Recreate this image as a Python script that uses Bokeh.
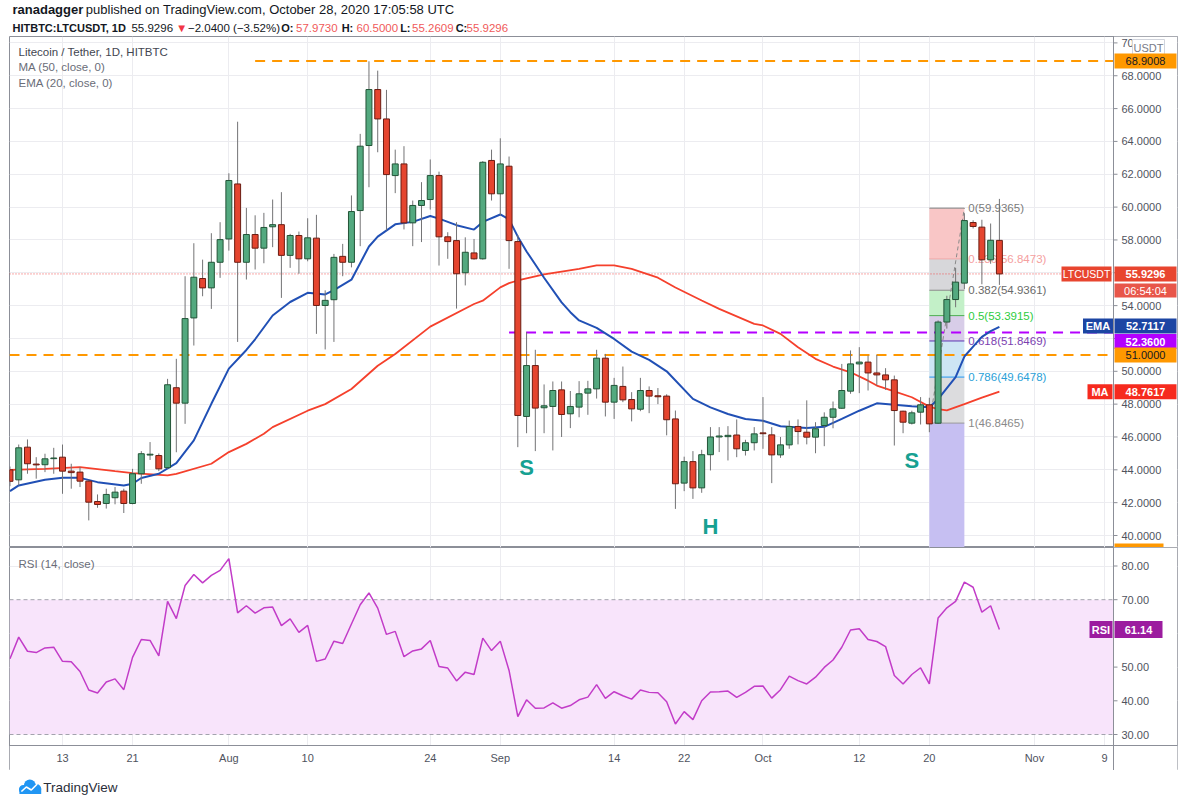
import numpy as np
import pandas as pd
from bokeh.plotting import figure
from bokeh.models import Range1d, Grid, FixedTicker, ColumnDataSource, Span
from bokeh.layouts import column
from bokeh.embed import file_html
from bokeh.resources import INLINE
from bokeh.core.properties import value

FONT = "Liberation Sans"

# ---------------------------------------------------------------- data
dates = pd.date_range("2020-07-07", "2020-10-28", freq="D")

opens = [44.00, 43.39, 45.38, 44.35, 44.31, 44.68, 44.77, 43.92, 43.86, 43.31,
         42.07, 41.95, 42.30, 42.70, 41.95, 43.76, 44.90, 44.87, 44.13, 49.00,
         48.06, 53.25, 55.65, 55.08, 56.64, 58.06, 61.41, 56.64, 58.33, 57.50,
         58.80, 58.93, 57.06, 58.27, 56.85, 58.11, 54.01, 54.36, 57.00, 56.64,
         59.79, 63.75, 67.16, 65.37, 61.92, 62.63, 59.04, 60.10, 60.46, 61.92,
         58.19, 57.96, 56.00, 57.21, 56.85, 62.84, 60.81, 62.49, 57.90, 47.25,
         50.35, 47.78, 47.86, 48.87, 47.41, 47.82, 48.67, 48.93, 50.80, 48.12,
         49.08, 48.28, 47.69, 48.83, 48.51, 48.49, 47.10, 43.19, 44.50, 42.90,
         44.92, 46.00, 46.02, 46.12, 45.18, 45.65, 46.25, 46.13, 44.91, 45.52,
         46.64, 46.29, 45.99, 46.70, 47.20, 47.75, 48.79, 50.45, 50.56, 49.90,
         49.78, 49.48, 47.57, 46.84, 47.51, 47.96, 46.84, 53.00, 54.37, 55.37,
         59.06, 58.78, 56.79, 57.973]
highs = [44.20, 45.54, 45.85, 44.77, 44.98, 45.34, 45.54, 44.37, 44.17, 43.40,
         42.50, 42.85, 42.95, 42.85, 44.06, 45.14, 45.69, 45.00, 49.54, 50.76,
         55.79, 57.80, 56.80, 58.41, 59.08, 62.06, 65.20, 59.95, 59.50, 59.65,
         60.46, 60.91, 58.37, 58.51, 59.32, 59.53, 54.93, 57.15, 57.76, 60.71,
         64.46, 68.88, 68.31, 67.14, 63.50, 63.71, 60.40, 61.52, 62.90, 62.16,
         58.47, 59.08, 58.16, 58.06, 62.80, 63.50, 64.19, 63.08, 58.30, 52.38,
         51.31, 49.20, 49.38, 49.38, 48.80, 49.40, 49.42, 51.31, 51.06, 49.60,
         50.29, 48.73, 49.60, 49.08, 48.98, 48.60, 47.61, 44.80, 45.14, 45.22,
         46.60, 46.60, 46.66, 47.07, 45.83, 46.60, 48.43, 46.60, 46.00, 47.00,
         47.07, 48.23, 46.90, 47.50, 48.16, 50.45, 51.27, 51.47, 50.96, 51.00,
         50.19, 49.74, 47.60, 47.60, 48.43, 48.39, 53.10, 54.60, 56.30, 59.63,
         59.20, 59.23, 59.00, 60.50]
lows = [43.00, 43.05, 43.76, 43.46, 43.86, 43.76, 42.54, 42.85, 42.95, 40.92,
        41.69, 41.64, 41.90, 41.37, 41.90, 43.15, 44.60, 43.92, 44.06, 45.07,
        46.80, 51.57, 54.57, 53.80, 55.69, 57.35, 51.79, 55.59, 56.20, 56.58,
        57.56, 54.47, 56.30, 55.94, 56.70, 52.28, 51.33, 51.79, 55.79, 56.33,
        57.62, 61.21, 63.34, 58.58, 60.85, 58.64, 57.62, 57.87, 59.85, 56.44,
        56.85, 53.82, 55.23, 56.80, 56.80, 60.40, 59.49, 56.24, 45.38, 46.23,
        45.14, 46.23, 45.18, 46.00, 46.54, 47.20, 47.35, 48.34, 47.25, 47.10,
        48.12, 46.95, 47.57, 47.45, 48.00, 46.10, 41.62, 42.70, 42.23, 42.60,
        43.96, 45.08, 44.57, 44.77, 44.87, 45.18, 45.28, 43.19, 44.73, 45.28,
        45.55, 45.55, 45.01, 45.44, 46.53, 47.71, 48.63, 48.67, 48.83, 49.14,
        48.87, 45.48, 46.23, 46.76, 46.76, 46.29, 46.80, 52.60, 53.90, 55.00,
        58.70, 55.30, 56.55, 55.2609]
closes = [43.30, 45.34, 44.37, 44.30, 44.67, 44.72, 43.92, 43.83, 43.31, 42.03,
          41.89, 42.50, 42.64, 41.95, 43.76, 44.98, 44.95, 44.06, 49.18, 48.06,
          53.21, 55.73, 55.08, 56.64, 58.02, 61.62, 56.64, 58.33, 57.50, 58.76,
          58.93, 57.06, 58.27, 56.85, 58.13, 54.01, 54.32, 56.94, 56.64, 59.73,
          63.71, 67.16, 65.37, 61.98, 62.63, 59.04, 60.10, 60.40, 61.92, 58.19,
          57.90, 55.94, 57.25, 56.85, 62.73, 60.81, 62.63, 57.96, 47.31, 50.35,
          47.76, 47.90, 48.83, 47.37, 47.86, 48.63, 48.93, 50.80, 48.12, 49.14,
          48.26, 47.71, 48.83, 48.49, 48.45, 47.05, 43.15, 44.50, 42.90, 44.92,
          46.00, 46.06, 46.10, 45.28, 45.65, 46.19, 46.20, 44.91, 45.52, 46.64,
          46.33, 45.99, 46.50, 47.20, 47.71, 48.83, 50.45, 50.56, 49.90, 49.78,
          49.48, 47.61, 46.90, 47.47, 47.96, 46.80, 53.00, 54.37, 55.43, 59.18,
          58.82, 56.79, 57.98, 55.9296]

rsi = [52.5, 58.9, 54.7, 54.3, 55.7, 55.9, 51.7, 51.6, 48.7, 43.2,
       42.3, 45.6, 46.5, 43.3, 52.9, 58.2, 57.9, 53.3, 69.5, 64.4,
       74.2, 77.5, 75.0, 77.2, 78.7, 82.2, 66.1, 68.2, 66.0, 67.6,
       67.8, 62.3, 64.3, 60.3, 62.4, 51.7, 52.4, 57.7, 57.0, 62.8,
       68.5, 72.0, 67.5, 59.7, 60.6, 53.1, 54.8, 55.4, 57.9, 50.2,
       49.7, 45.9, 48.5, 47.8, 58.6, 54.9, 57.7, 49.0, 35.3, 40.3,
       37.8, 37.9, 39.4, 37.8, 38.6, 40.3, 41.1, 44.8, 40.7, 42.7,
       41.5, 40.5, 43.2, 42.5, 42.4, 39.7, 33.1, 36.8, 34.4, 40.0,
       42.6, 42.7, 42.9, 41.0, 42.5, 44.3, 44.4, 40.8, 43.3, 47.3,
       46.0, 45.0, 47.0, 49.9, 52.1, 55.9, 61.0, 61.4, 58.2, 57.6,
       56.1, 47.5, 45.0, 47.8, 49.8, 45.0, 64.6, 67.6, 69.5, 75.2,
       73.7, 66.3, 68.2, 61.14]

# indicator lines (day offsets from 2020-07-13)
ema_days = [-6, -5, -2, 0, 2, 4, 7, 8, 9, 11, 13, 15, 17, 19, 21, 22, 24, 26, 28, 30,
            31, 33, 35, 36, 38, 40, 42, 43, 45, 47, 48, 50, 51, 52, 53, 54, 55, 57, 58, 59,
            61, 63, 65, 67, 69, 72, 74, 76, 78, 80, 82, 85, 87, 89, 91, 93, 95, 97, 99, 100,
            102, 103, 104, 105, 106, 107]
ema_vals = [42.70, 43.05, 43.39, 43.51, 43.51, 43.25, 43.05, 43.15, 43.50, 43.76,
            44.41, 45.79, 48.02, 50.16, 51.30, 51.95, 53.40, 54.22, 54.78, 54.68,
            54.95, 55.58, 57.60, 58.20, 58.95, 59.10, 59.46, 59.30, 58.90, 58.63,
            59.10, 59.55, 59.25, 58.20, 57.30, 56.50, 55.70, 54.20, 53.60, 53.10,
            52.64, 51.97, 51.20, 50.70, 50.00, 48.32, 47.80, 47.40, 47.10, 46.99,
            46.65, 46.55, 46.62, 47.10, 47.60, 48.05, 47.97, 47.87, 47.81, 48.30,
            49.64, 50.90, 51.50, 52.10, 52.45, 52.71]
ma_days = [-6, -2, 2, 6, 8, 12, 13, 17, 19, 21, 23, 24, 28, 30, 33, 36, 38, 42, 47, 48,
           50, 51, 52, 55, 59, 61, 63, 65, 68, 70, 73, 75, 79, 80, 82, 84, 86, 88, 90, 92,
           93, 95, 97, 99, 100, 101, 103, 105, 107]
ma_vals = [44.00, 44.06, 44.17, 43.92, 43.80, 43.66, 43.76, 44.37, 45.08, 45.58,
           46.20, 46.60, 47.60, 48.00, 48.92, 50.34, 51.05, 52.72, 54.10, 54.30,
           55.11, 55.37, 55.53, 55.90, 56.24, 56.45, 56.45, 56.24, 55.70, 55.10,
           54.31, 53.80, 52.89, 52.79, 52.28, 51.47, 50.76, 50.29, 49.94, 49.43,
           49.13, 48.78, 48.42, 47.85, 47.70, 47.62, 48.00, 48.40, 48.76]

# horizontal levels
res_high = 68.9008
sup_orange = 51.0
sup_purple = 52.36
res_high_start = "2020-08-04"
sup_purple_start = "2020-09-02"

# fibonacci retracement
fib_levels = ["0", "0.236", "0.382", "0.5", "0.618", "0.786", "1"]
fib_prices = [59.9365, 56.8473, 54.9361, 53.3915, 51.8469, 49.6478, 46.8465]
fib_start, fib_end = "2020-10-20", "2020-10-24"

# pattern labels
pattern_text = ["S", "H", "S"]
pattern_date = ["2020-09-04", "2020-09-25", "2020-10-18"]
pattern_price = [44.14, 40.55, 44.57]

price_ticks = list(range(40, 71, 2))
rsi_grid = [40, 50, 60, 80]
rsi_ticks = [80, 70, 50, 40, 30]
tick_dates = ["2020-07-13", "2020-07-21", "2020-08-01", "2020-08-10", "2020-08-24",
              "2020-09-01", "2020-09-14", "2020-09-22", "2020-10-01", "2020-10-12",
              "2020-10-20", "2020-11-01", "2020-11-09"]
tick_labels = ["13", "21", "Aug", "10", "24", "Sep", "14", "22", "Oct", "12", "20", "Nov", "9"]

ema_last, ma_last, rsi_last = 52.7117, 48.7617, 61.14
countdown = "06:54:04"

# ---------------------------------------------------------------- helpers
origin = pd.Timestamp("2020-07-13")
def dd(s):
    return float((pd.Timestamp(s) - origin).days)

day = np.array((dates - origin).days, dtype=float)

def px2d(x):   # page x -> day offset
    return (x - 62.0) / 8.756
def py2p(y):   # page y -> price
    return 40.0 + (535.0 - y) / 16.42
def py2r(y):   # page y -> RSI
    return 30.0 + (734.0 - y) / 3.37

BORDER = "#8c8f98"
GRID = "#ececf0"
AXTXT = "#50535e"
GREEN, GREEN_B = "#53a97f", "#225437"
RED, RED_B = "#e5452f", "#6b1c12"

def txt(fig, x, y, s, color="#131722", size="11px", align="left", style="normal", font=FONT):
    fig.text(x=[x], y=[y], text=[s], text_font=value(font), text_font_size=size,
             text_color=color, text_align=align, text_baseline="middle", text_font_style=style)

def box(fig, xc, yc, w, h, color, line=None):
    fig.rect(x=[xc], y=[yc], width=[w], height=[h], width_units="screen", height_units="screen",
             fill_color=color, line_color=line)

xr = Range1d(px2d(9), px2d(1177))
XPANE_R = px2d(1113)
PANE_KW = dict(width=1178, x_range=xr, output_backend="svg", toolbar_location=None,
               min_border_left=9, min_border_right=1, min_border_top=0, min_border_bottom=0,
               x_axis_location=None, y_axis_location=None)

# ---------------------------------------------------------------- header
header = figure(width=1178, height=36, x_range=Range1d(0, 1178), y_range=Range1d(36, 0),
                output_backend="svg", toolbar_location=None, min_border=0,
                x_axis_location=None, y_axis_location=None)
header.grid.visible = False
header.outline_line_color = None
txt(header, 3, 9, "ranadagger", size="13px", style="bold")
txt(header, 77, 9, "published on TradingView.com, October 28, 2020 17:05:58 UTC", size="13px")
redv = "#f05a5a"
line2 = [("HITBTC:LTCUSDT, 1D", "#131722", "bold", 3),
         (f"{closes[-1]:.4f}", "#131722", "normal", 123),
         ("\u25BC", "#f23645", "normal", 168),
         ("\u22122.0400 (\u22123.52%)", "#131722", "normal", 180),
         ("O:", "#131722", "bold", 274), (f"{opens[-1]:.4f}", redv, "normal", 289),
         ("H:", "#131722", "bold", 335), (f"{highs[-1]:.4f}", redv, "normal", 350),
         ("L:", "#131722", "bold", 394), (f"{lows[-1]:.4f}", redv, "normal", 406),
         ("C:", "#131722", "bold", 450), (f"{closes[-1]:.4f}", redv, "normal", 461)]
for s, col, st, x in line2:
    txt(header, x, 27, s, color=col, size="11px" if st == "bold" else "11.5px", style=st)

# ---------------------------------------------------------------- price pane
p1 = figure(height=511, y_range=Range1d(py2p(547), py2p(36)), **PANE_KW)
p1.grid.visible = False
p1.outline_line_color = BORDER
p1.add_layout(Grid(dimension=1, ticker=FixedTicker(ticks=price_ticks), grid_line_color=GRID))
p1.add_layout(Grid(dimension=0, ticker=FixedTicker(ticks=[dd(t) for t in tick_dates]),
                   grid_line_color=GRID))

# fib zones
f0, f1 = dd(fib_start), dd(fib_end)
zone_cols = ["#f9c6c6", "#d7d7da", "#c3f0c8", "#d8cde8", "#cde5f4", "#dcdcde"]
p1.quad(left=[f0] * 6, right=[f1] * 6, top=fib_prices[:-1], bottom=fib_prices[1:],
        fill_color=zone_cols, line_color=None)
p1.quad(left=[f0], right=[f1], top=[fib_prices[-1]], bottom=[py2p(547)],
        fill_color="#c6bff2", line_color=None)
lvl_cols = ["#808080", "#f4a3a3", "#8a8a8a", "#4caf50", "#5e35b1", "#2196f3", "#9a9a9a"]
lab_cols = ["#7a7a7a", "#f5a0a0", "#6a6a6a", "#2ecc40", "#7b3fb0", "#2a9fd8", "#8a8a8a"]
p1.segment(x0=[f0] * 7, x1=[f1] * 7, y0=fib_prices, y1=fib_prices, line_color=lvl_cols, line_width=1)
for lv, pr, col in zip(fib_levels, fib_prices, lab_cols):
    txt(p1, f1 + px2d(977) - px2d(973), pr, f"{lv}({pr:.4f})", color=col, size="11.5px")
p1.line([f0, f1], [fib_prices[-1], fib_prices[0]], line_color="#8a8a8a", line_dash="4 3", line_width=1)

# horizontal lines
p1.line([dd(res_high_start), XPANE_R], [res_high, res_high], line_color="#ff9800", line_width=2, line_dash="10 7")
p1.line([xr.start, XPANE_R], [sup_orange, sup_orange], line_color="#ff9800", line_width=2, line_dash="10 7")
p1.line([dd(sup_purple_start), XPANE_R], [sup_purple, sup_purple], line_color="#b400ff", line_width=2, line_dash="10 7")
p1.line([xr.start, XPANE_R], [closes[-1], closes[-1]], line_color="#ef5350", line_width=1, line_dash="1 2")

# indicators
p1.line(ma_days, ma_vals, line_color="#f5402c", line_width=1.8)
p1.line(ema_days, ema_vals, line_color="#2150b5", line_width=2)

# candles
o, h, l, c = map(np.array, (opens, highs, lows, closes))
up = c >= o
src = ColumnDataSource(dict(day=day, h=h, l=l, top=np.maximum(o, c), bot=np.minimum(o, c),
                            fill=np.where(up, GREEN, RED), line=np.where(up, GREEN_B, RED_B)))
p1.segment(x0="day", y0="l", x1="day", y1="h", source=src, line_color="#737375", line_width=1)
p1.vbar(x="day", width=0.68, top="top", bottom="bot", source=src,
        fill_color="fill", line_color="line", line_width=1)

# pattern labels
p1.text(x=[dd(s) for s in pattern_date], y=pattern_price, text=pattern_text,
        text_font=value(FONT), text_font_size="22px", text_font_style="bold",
        text_color="#17a192", text_align="center", text_baseline="middle")

# legend
txt(p1, px2d(18), py2p(51), "Litecoin / Tether, 1D, HITBTC", color="#434651", size="11.5px")
txt(p1, px2d(18), py2p(66), "MA (50, close, 0)", color="#6a6d78", size="11.5px")
txt(p1, px2d(18), py2p(82), "EMA (20, close, 0)", color="#6a6d78", size="11.5px")

# right price axis area
yr1 = p1.y_range
p1.quad(left=[px2d(1113.5)], right=[xr.end], bottom=[yr1.start], top=[yr1.end],
        fill_color="white", line_color=None)
p1.add_layout(Span(location=XPANE_R, dimension="height", line_color=BORDER, line_width=1))
p1.segment(x0=[XPANE_R] * len(price_ticks), x1=[px2d(1117)] * len(price_ticks),
           y0=price_ticks, y1=price_ticks, line_color=BORDER)
p1.text(x=[px2d(1121)] * len(price_ticks), y=price_ticks, text=[f"{v:.4f}" for v in price_ticks],
        text_font=value(FONT), text_font_size="11px", text_color=AXTXT,
        text_align="left", text_baseline="middle")

AXC = px2d(1145)
# USDT badge
box(p1, px2d(1148), py2p(47.5), 32, 17, "white", line="#d1d4dc")
txt(p1, px2d(1148), py2p(47.5), "USDT", color="#787b86", size="11px", align="center")
# 68.9008
box(p1, AXC, res_high, 62, 15, "#ff9800")
txt(p1, AXC, res_high, f"{res_high:.4f}", color="#131722", size="11px", align="center")
# last price
box(p1, px2d(1086), closes[-1], 50, 15, "#e8452f")
txt(p1, px2d(1086), closes[-1], "LTCUSDT", color="white", size="10.5px", align="center")
box(p1, AXC, closes[-1], 62, 15, "#e8452f")
txt(p1, AXC, closes[-1], f"{closes[-1]:.4f}", color="white", size="11px", align="center", style="bold")
box(p1, AXC, py2p(290), 62, 14, "#e8564a")
txt(p1, AXC, py2p(290), countdown, color="white", size="11px", align="center")
# EMA / purple / orange stack
ema_y = py2p(325.5)
box(p1, px2d(1097.5), ema_y, 30, 15, "#1c45a3")
txt(p1, px2d(1097.5), ema_y, "EMA", color="white", size="11px", align="center", style="bold")
box(p1, AXC, ema_y, 62, 15, "#1c45a3")
txt(p1, AXC, ema_y, f"{ema_last:.4f}", color="white", size="11px", align="center", style="bold")
pur_y = py2p(341)
box(p1, AXC, pur_y, 62, 15, "#b300ff")
txt(p1, AXC, pur_y, f"{sup_purple:.4f}", color="white", size="11px", align="center", style="bold")
box(p1, AXC, sup_orange, 62, 15, "#ff9800")
txt(p1, AXC, sup_orange, f"{sup_orange:.4f}", color="#131722", size="11px", align="center")
# MA
box(p1, px2d(1099.5), ma_last, 25, 15, "#f62a1e")
txt(p1, px2d(1099.5), ma_last, "MA", color="white", size="11px", align="center", style="bold")
box(p1, AXC, ma_last, 62, 15, "#f62a1e")
txt(p1, AXC, ma_last, f"{ma_last:.4f}", color="white", size="11px", align="center", style="bold")
# cut-off orange badge at bottom
p1.quad(left=[px2d(1114)], right=[px2d(1163)], bottom=[yr1.start], top=[py2p(543)],
        fill_color="#ff9800", line_color=None)

# ---------------------------------------------------------------- RSI pane
p2 = figure(height=223, y_range=Range1d(py2r(770), py2r(547)), **PANE_KW)
p2.grid.visible = False
p2.outline_line_color = BORDER
p2.add_layout(Grid(dimension=1, ticker=FixedTicker(ticks=rsi_grid), grid_line_color=GRID))
p2.add_layout(Grid(dimension=0, ticker=FixedTicker(ticks=[dd(t) for t in tick_dates]),
                   grid_line_color=GRID))
p2.quad(left=[xr.start], right=[XPANE_R], bottom=[30], top=[70], fill_color="#f8e4fb", line_color=None)
p2.line([xr.start, XPANE_R], [70, 70], line_color="#a3a3ad", line_dash="4 3", line_width=1)
p2.line([xr.start, XPANE_R], [30, 30], line_color="#a3a3ad", line_dash="4 3", line_width=1)
p2.line(day, rsi, line_color="#c23cc8", line_width=1.5)
txt(p2, px2d(18), py2r(563), "RSI (14, close)", color="#6a6d78", size="11.5px")

yr2 = p2.y_range
p2.quad(left=[xr.start], right=[xr.end], bottom=[yr2.start], top=[py2r(745.5)],
        fill_color="white", line_color=None)
p2.quad(left=[px2d(1113.5)], right=[xr.end], bottom=[yr2.start], top=[yr2.end],
        fill_color="white", line_color=None)
p2.add_layout(Span(location=XPANE_R, dimension="height", line_color=BORDER, line_width=1))
p2.add_layout(Span(location=py2r(745), dimension="width", line_color=BORDER, line_width=1))
p2.segment(x0=[XPANE_R] * len(rsi_ticks), x1=[px2d(1117)] * len(rsi_ticks),
           y0=rsi_ticks, y1=rsi_ticks, line_color=BORDER)
p2.text(x=[px2d(1121)] * len(rsi_ticks), y=rsi_ticks, text=[f"{v:.2f}" for v in rsi_ticks],
        text_font=value(FONT), text_font_size="11px", text_color=AXTXT,
        text_align="left", text_baseline="middle")
p2.text(x=[dd(t) for t in tick_dates], y=[py2r(757)] * len(tick_dates), text=tick_labels,
        text_font=value(FONT), text_font_size="11px", text_color=AXTXT,
        text_align="center", text_baseline="middle")
box(p2, px2d(1100.5), rsi_last, 23, 17, "#9c1c9f")
txt(p2, px2d(1100.5), rsi_last, "RSI", color="white", size="11px", align="center", style="bold")
box(p2, px2d(1138), rsi_last, 48, 17, "#9c1c9f")
txt(p2, px2d(1138), rsi_last, f"{rsi_last:.2f}", color="white", size="11px", align="center", style="bold")

# ---------------------------------------------------------------- footer
footer = figure(width=1178, height=32, x_range=Range1d(0, 1178), y_range=Range1d(802, 770),
                output_backend="svg", toolbar_location=None, min_border=0,
                x_axis_location=None, y_axis_location=None)
footer.grid.visible = False
footer.outline_line_color = None
footer.circle(x=[14, 20.5, 27], y=[789, 785, 788.5], radius=[4.5, 6, 5], fill_color="#2196f3", line_color=None)
footer.quad(left=[10], right=[32], top=[788], bottom=[793.5], fill_color="#2196f3", line_color=None)
footer.line([12, 17, 22, 28], [791, 786.5, 789.5, 783.5], line_color="white", line_width=1.6)
txt(footer, 34, 787, "TradingView", color="#2a2e39", size="13.5px")

layout = column(header, p1, p2, footer)
open("out.html", "w").write(file_html(layout, INLINE))
